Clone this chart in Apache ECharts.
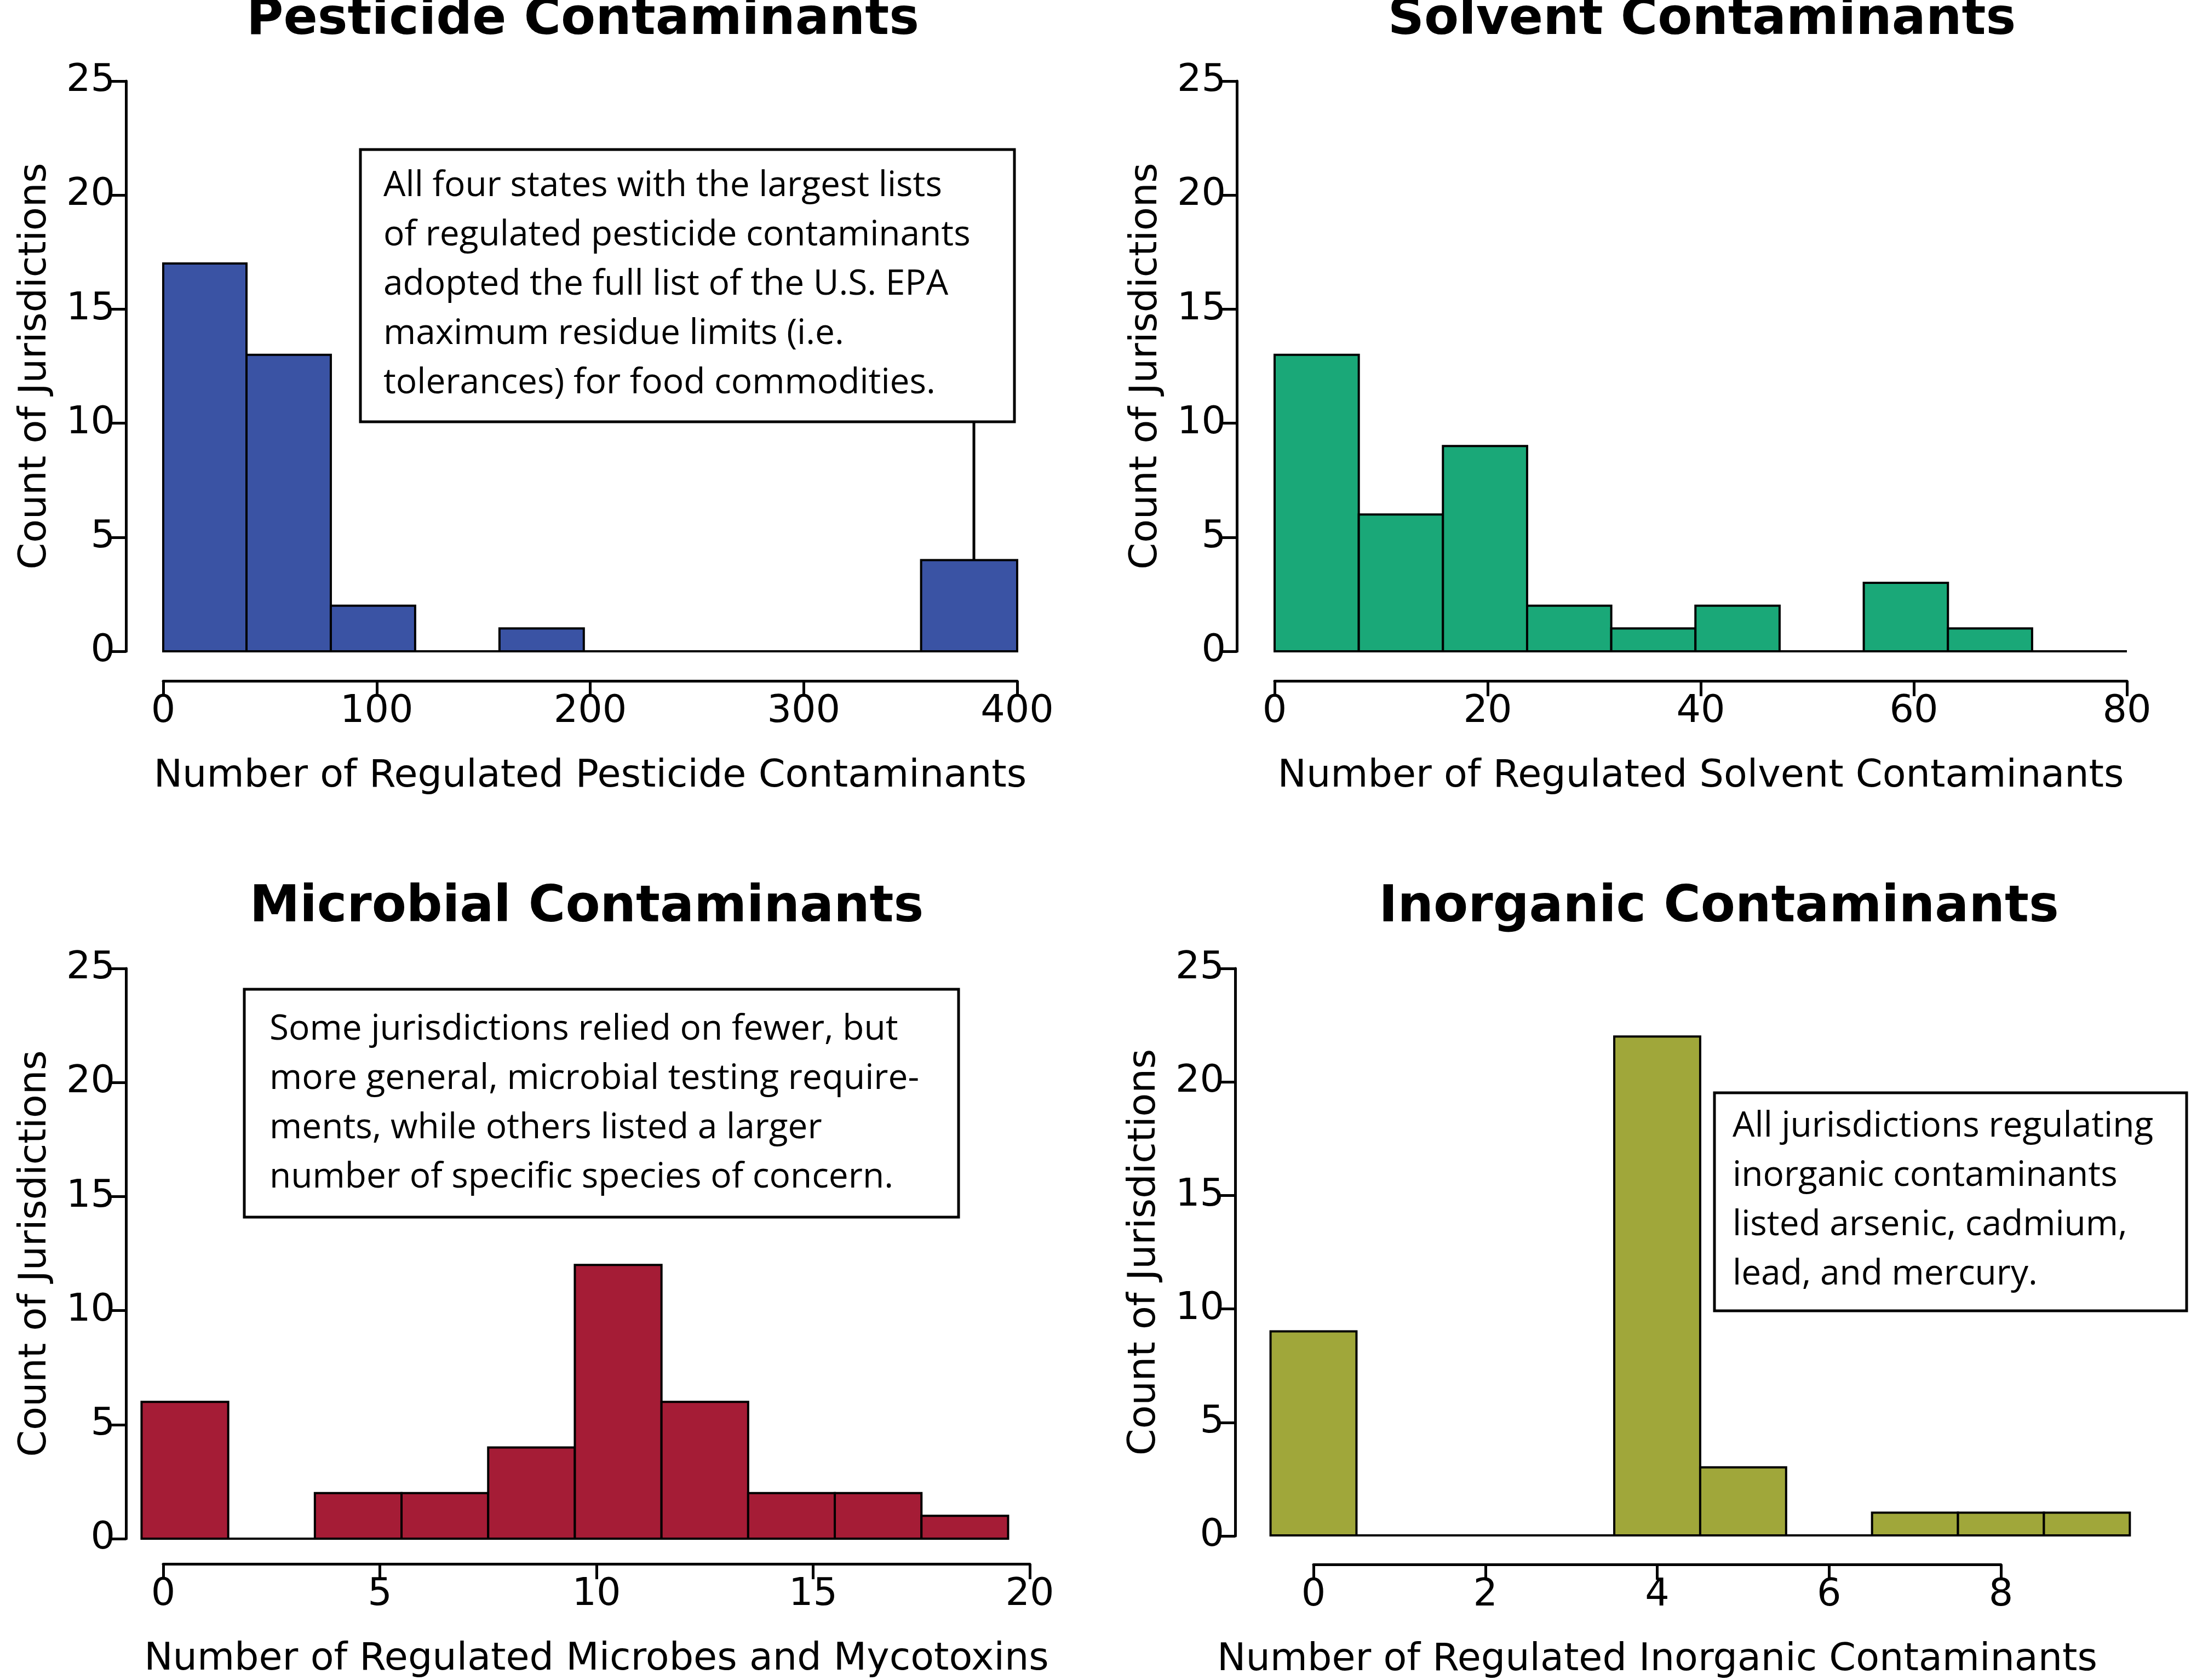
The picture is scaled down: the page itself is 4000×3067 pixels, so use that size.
<!DOCTYPE html>
<html><head><meta charset="utf-8">
<script src="https://cdn.jsdelivr.net/npm/echarts@6/dist/echarts.min.js"></script>
<style>html,body{margin:0;padding:0;background:#fff}#c{width:4000px;height:3067px}</style>
</head><body><div id="c"></div>
<script>
const pestEdges = [0,39,78.5,118,157.5,197,236.5,276,315.5,355,400];
const pestCounts = [17,13,2,0,1,0,0,0,0,4];
const solvEdges = [0,7.9,15.8,23.7,31.6,39.5,47.4,55.3,63.2,71.1];
const solvCounts = [13,6,9,2,1,2,0,3,1];
const microEdges = [-0.5,1.5,3.5,5.5,7.5,9.5,11.5,13.5,15.5,17.5,19.5];
const microCounts = [6,0,2,2,4,12,6,2,2,1];
const inorgEdges = [-0.5,0.5,1.5,2.5,3.5,4.5,5.5,6.5,7.5,8.5,9.5];
const inorgCounts = [9,0,0,0,22,3,0,1,1,1];
const yTicks = [0,5,10,15,20,25];

const titles = ['Pesticide Contaminants','Solvent Contaminants','Microbial Contaminants','Inorganic Contaminants'];
const xNames = ['Number of Regulated Pesticide Contaminants','Number of Regulated Solvent Contaminants','Number of Regulated Microbes and Mycotoxins','Number of Regulated Inorganic Contaminants'];
const colors = ['#3a53a4','#1aa878','#a51c36','#a0a73a'];
const edgesAll = [pestEdges, solvEdges, microEdges, inorgEdges];
const countsAll = [pestCounts, solvCounts, microCounts, inorgCounts];
const xRange = [[0,400,100],[0,80,20],[0,20,5],[0,8,2]];
const grids = [
  {left:298, width:1559, top:148, height:1041},
  {left:2327, width:1556, top:148, height:1041},
  {left:298, width:1582, top:1768, height:1041},
  {left:2398, width:1255, top:1768, height:1036}
];
const yAxisX = [230,2258,230,2255];
const xOff = [54,54,46,53];
const FONT = 'DejaVu Sans';
const axisLine = {lineStyle:{color:'#000',width:5}};
const axisTick = {length:28, lineStyle:{color:'#000',width:5}};

const xAxis = [], yAxis = [], series = [];
for (let i=0;i<4;i++){
  xAxis.push({gridIndex:i,type:'value',min:xRange[i][0],max:xRange[i][1],interval:xRange[i][2],
    position:'bottom',offset:xOff[i],axisLine:Object.assign({onZero:false},axisLine),axisTick,splitLine:{show:false},
    axisLabel:{fontSize:70,color:'#000',fontFamily:FONT,margin:22},
    name:xNames[i],nameLocation:'middle',nameGap:140,nameTextStyle:{fontSize:70,color:'#000',fontFamily:FONT}});
  yAxis.push({gridIndex:i,type:'value',min:0,max:25,show:false,splitLine:{show:false}});
}
for (let i=0;i<4;i++){
  const g = grids[i];
  grids.push({left:yAxisX[i], width:10, top:g.top, height:g.height});
  xAxis.push({gridIndex:4+i,type:'value',min:0,max:1,show:false});
  yAxis.push({gridIndex:4+i,type:'value',min:0,max:25,interval:5,position:'left',
    axisLine:Object.assign({show:true,onZero:false},axisLine),axisTick:Object.assign({show:true},axisTick),splitLine:{show:false},
    axisLabel:{fontSize:70,color:'#000',fontFamily:FONT,margin:20},
    name:'Count of Jurisdictions',nameLocation:'middle',nameGap:130,nameTextStyle:{fontSize:70,color:'#000',fontFamily:FONT}});
}
for (let i=0;i<4;i++){
  const e = edgesAll[i], c = countsAll[i];
  const data = c.map((v,k)=>[e[k],e[k+1],v]).filter(d=>d[2]>0);
  series.push({type:'custom',xAxisIndex:i,yAxisIndex:i,clip:false,data,
    renderItem:(params,api)=>{
      const p0 = api.coord([api.value(0),api.value(2)]);
      const p1 = api.coord([api.value(1),0]);
      return {type:'rect',shape:{x:p0[0],y:p0[1],width:p1[0]-p0[0],height:p1[1]-p0[1]},
        style:{fill:colors[i],stroke:'#000',lineWidth:4}};
    }});
  const baseEnd = i===0?400:(i===1?80:e[e.length-1]);
  series.push({type:'line',xAxisIndex:i,yAxisIndex:i,clip:false,symbol:'none',silent:true,
    data:[[e[0],0],[baseEnd,0]],lineStyle:{color:'#000',width:4}});
}

const titleCenters = [[1064,38],[3107,38],[1071,1658],[3138,1658]];
const graphic = [];
titles.forEach((t,i)=>graphic.push({type:'text',x:titleCenters[i][0],y:titleCenters[i][1],
  style:{text:t,font:'bold 92px "DejaVu Sans"',fill:'#000',align:'center',verticalAlign:'middle',textAlign:'center',textVerticalAlign:'middle'}}));
function box(x,y,w,h,lines,tx,ty){
  graphic.push({type:'rect',shape:{x:x,y:y,width:w,height:h},style:{fill:'#fff',stroke:'#000',lineWidth:5},z:10});
  graphic.push({type:'text',x:tx,y:ty,z:11,style:{text:lines.join('\n'),font:'64px "Open Sans"',lineHeight:90,fill:'#000'}});
}
graphic.push({type:'line',shape:{x1:1778,y1:770,x2:1778,y2:1022},style:{stroke:'#000',lineWidth:5},z:9});
box(658,273,1194,497,['All four states with the largest lists','of regulated pesticide contaminants','adopted the full list of the U.S. EPA','maximum residue limits (i.e.','tolerances) for food commodities.'],700,295);
box(446,1806,1304,416,['Some jurisdictions relied on fewer, but','more general, microbial testing require-','ments, while others listed a larger','number of specific species of concern.'],492,1835);
box(3130,1995,862,398,['All jurisdictions regulating','inorganic contaminants','listed arsenic, cadmium,','lead, and mercury.'],3163,2012);

const chart = echarts.init(document.getElementById('c'));
chart.setOption({backgroundColor:'#fff',animation:false,grid:grids,xAxis,yAxis,series,graphic});
</script></body></html>
